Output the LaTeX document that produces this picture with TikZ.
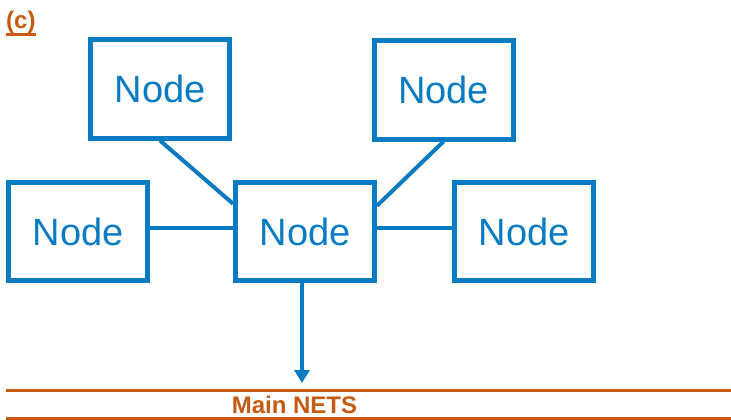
\documentclass[tikz,border=0pt]{standalone}
\usepackage{fontspec}
\setmainfont{Liberation Sans}
\usetikzlibrary{arrows.meta,calc}
\definecolor{nodeblue}{RGB}{8,123,194}
\definecolor{netorange}{RGB}{197,90,17}
\tikzset{
  nodebox/.style={draw=nodeblue, line width=5pt, minimum width=139pt, minimum height=98pt,
    inner sep=0pt, text=nodeblue, font=\fontsize{38}{40}\selectfont},
  link/.style={draw=nodeblue, line width=4pt},
  netline/.style={draw=netorange, line width=3pt},
  nettext/.style={text=netorange, font=\bfseries\fontsize{24}{26}\selectfont, inner sep=0pt}
}
\begin{document}
\begin{tikzpicture}[x=1pt,y=-1pt]
\useasboundingbox (0,0) rectangle (731,420);
\node[nodebox] (TL) at (160,89) {Node};
\node[nodebox] (TR) at (443.5,90) {Node};
\node[nodebox] (L) at (78,231.5) {Node};
\node[nodebox] (C) at (305,231.5) {Node};
\node[nodebox] (R) at (524,231.5) {Node};
\draw[link] (TL.south) -- ($(C.north west)!0.23!(C.south west)$);
\draw[link] (TR.south) -- ($(C.north east)!0.25!(C.south east)$);
\draw[link] ([yshift=4pt]L.east) -- ([yshift=4pt]C.west);
\draw[link] ([yshift=4pt]C.east) -- ([yshift=4pt]R.west);
\coordinate (tip) at (302,383);
\draw[link, -{Triangle[width=15pt,length=13pt]}] ([xshift=-3pt]C.south) -- (tip);
\coordinate (a1) at (6,390);
\coordinate (a2) at (731,390);
\coordinate (b1) at (6,418);
\coordinate (b2) at (731,418);
\draw[netline] (a1) -- (a2);
\draw[netline] (b1) -- (b2);
\node[nettext, anchor=base] (main) at (294.5,413) {Main NETS};
\node[nettext, anchor=base west, font=\bfseries\fontsize{24}{26}\selectfont] (lbl) at (6,29) {(c)};
\draw[netline] ([yshift=-0.5pt]lbl.south west) -- ([yshift=-0.5pt]lbl.south east);
\end{tikzpicture}
\end{document}
